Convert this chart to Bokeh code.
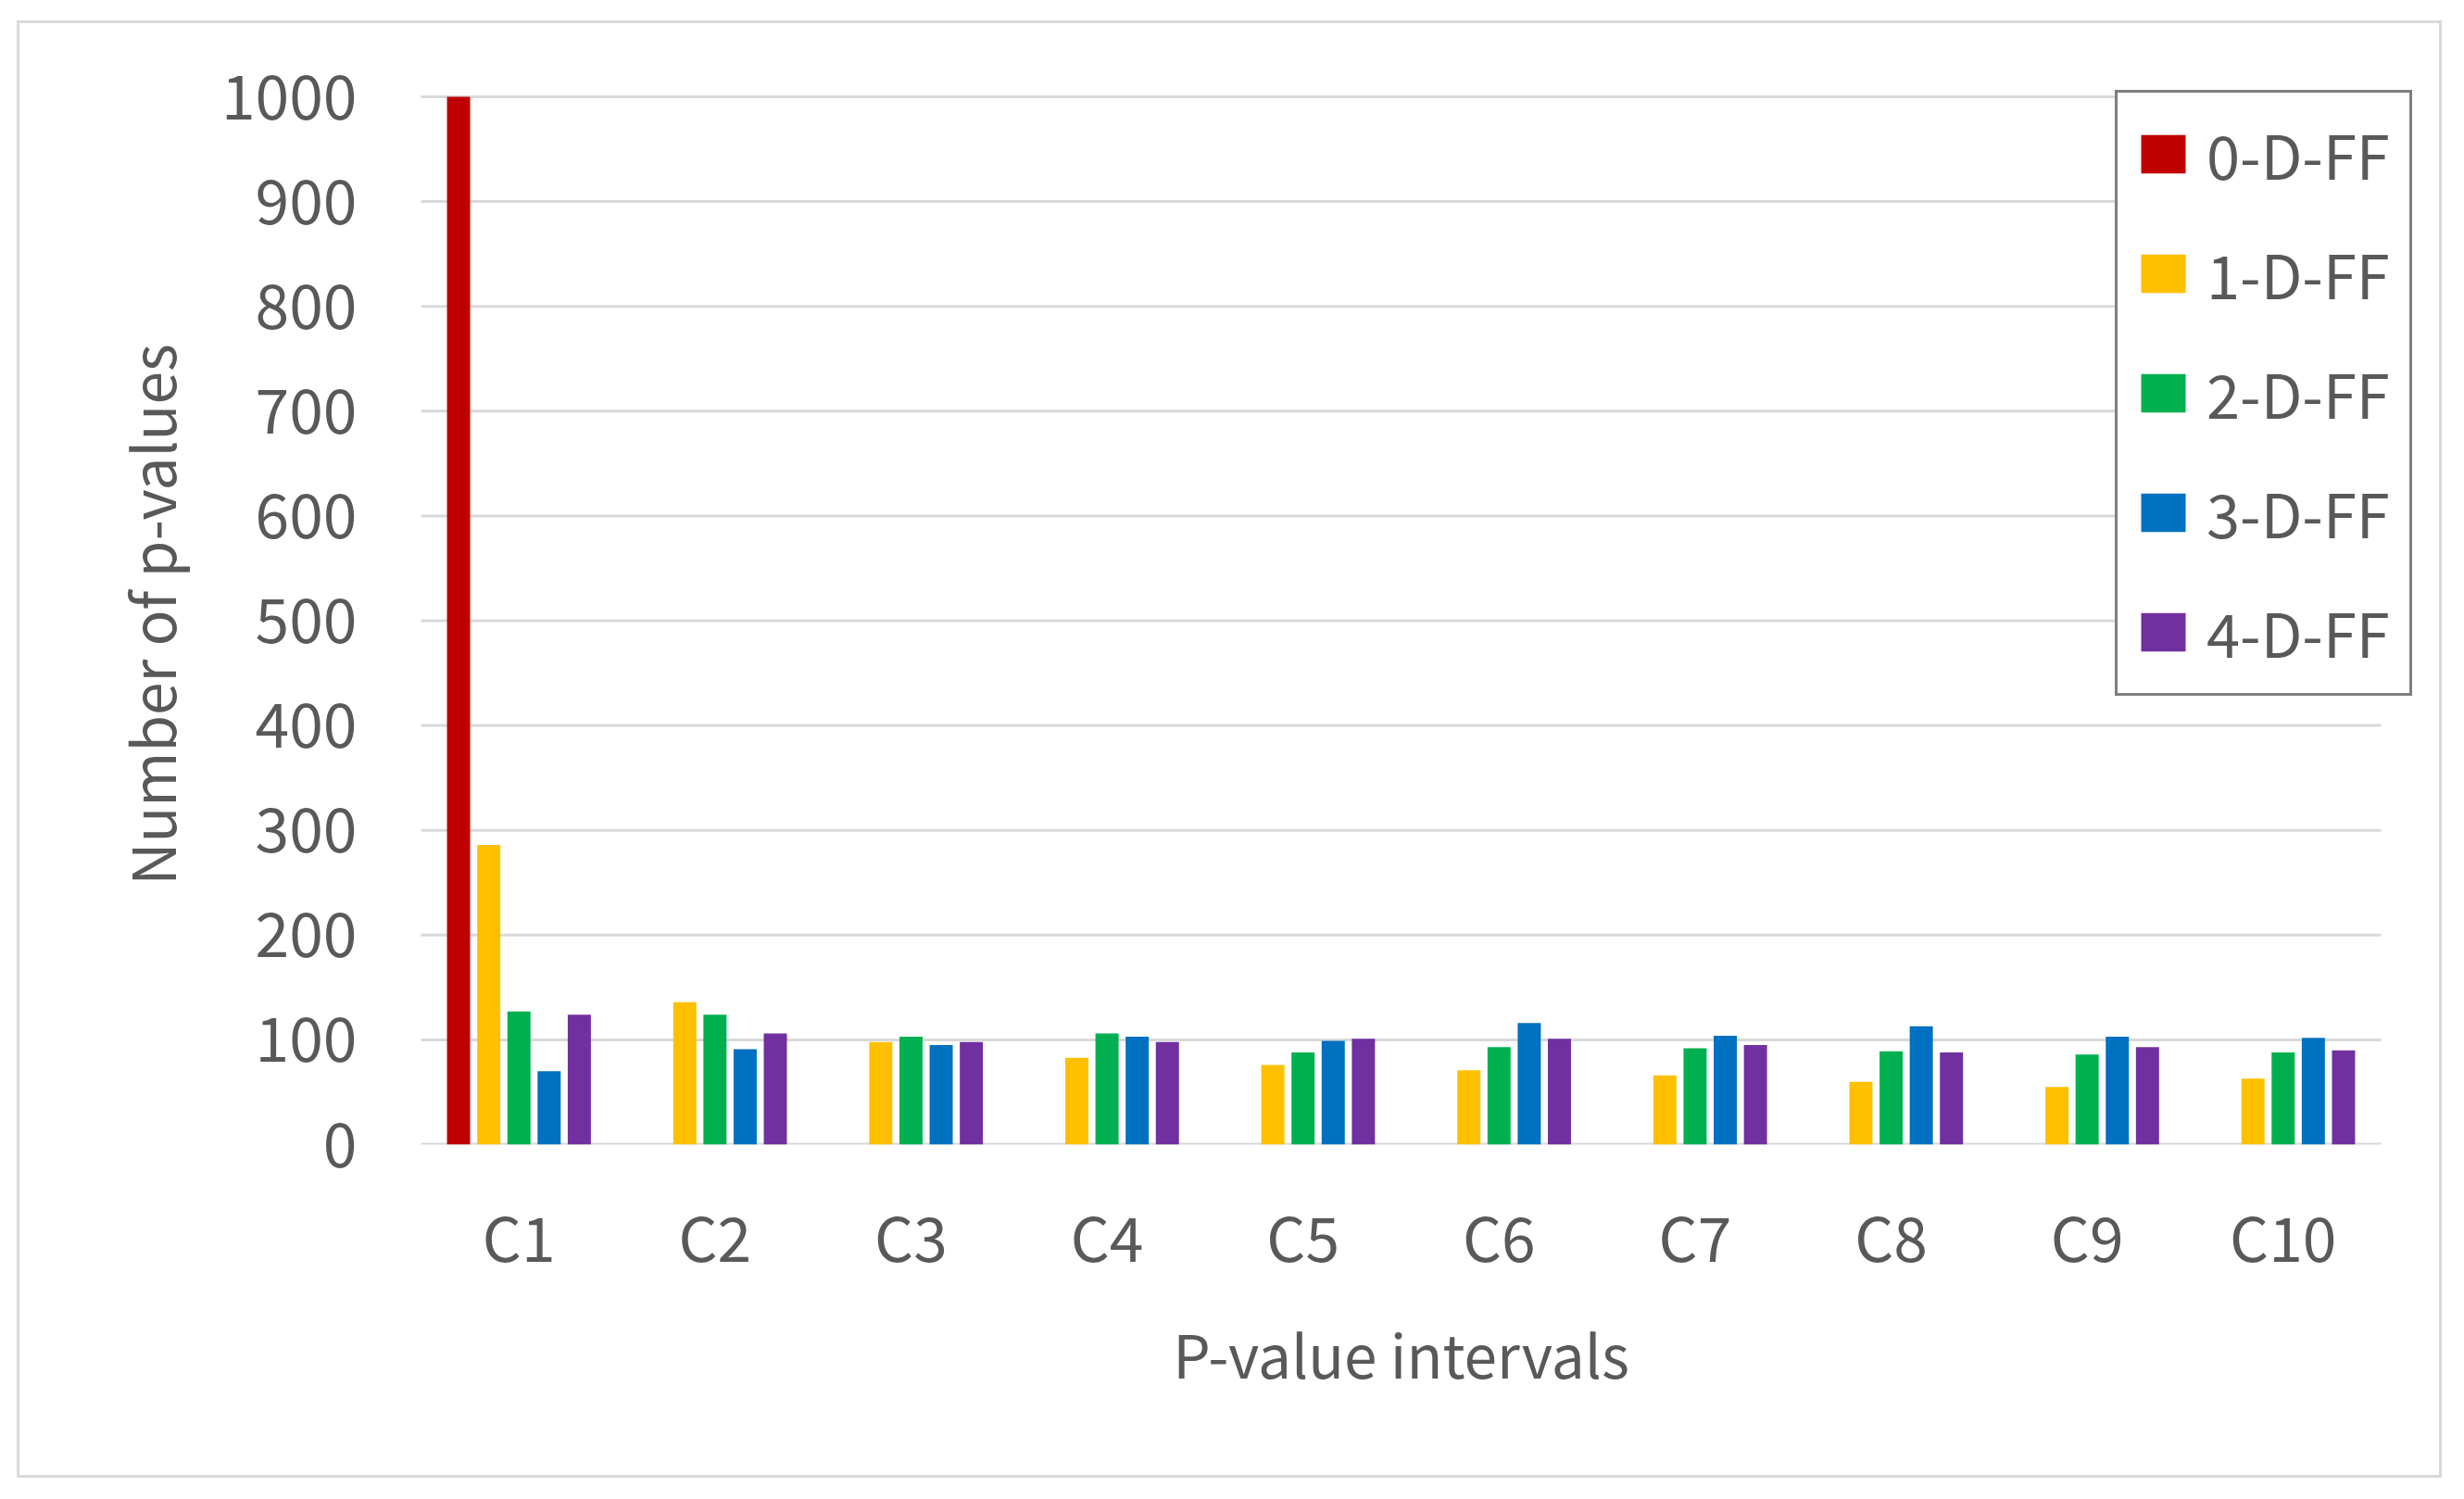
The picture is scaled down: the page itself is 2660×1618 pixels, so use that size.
from bokeh.plotting import figure
from bokeh.models import Range1d, FixedTicker, Legend, LegendItem, FactorRange, ColumnDataSource
from bokeh.transform import dodge
from bokeh.embed import file_html
from bokeh.resources import INLINE

categories = ["C1", "C2", "C3", "C4", "C5", "C6", "C7", "C8", "C9", "C10"]
series_names = ["0-D-FF", "1-D-FF", "2-D-FF", "3-D-FF", "4-D-FF"]
ff0 = [1000, 0, 0, 0, 0, 0, 0, 0, 0, 0]
ff1 = [286, 136, 98, 83, 76, 71, 66, 60, 55, 63]
ff2 = [127, 124, 103, 106, 88, 93, 92, 89, 86, 88]
ff3 = [70, 91, 95, 103, 99, 116, 104, 113, 103, 102]
ff4 = [124, 106, 98, 98, 101, 101, 95, 88, 93, 90]
y_ticks = [0, 100, 200, 300, 400, 500, 600, 700, 800, 900, 1000]
colors = ["#C00000", "#FFC000", "#00B050", "#0070C0", "#7030A0"]

FONT = "Noto Sans CJK SC"
TXT = "#595959"
GRID = "#d9d9d9"

src = ColumnDataSource(dict(cat=categories, ff0=ff0, ff1=ff1, ff2=ff2, ff3=ff3, ff4=ff4))

x_range = FactorRange(*categories, range_padding=0.217, range_padding_units="absolute")
p = figure(x_range=x_range, y_range=Range1d(0, 1011.5),
           width=2618, height=1573, output_backend="svg", toolbar_location=None,
           min_border_left=387, min_border_right=23, min_border_top=66, min_border_bottom=363)
p.margin = (22, 0, 0, 18)
p.styles = {"border": "3px solid #d9d9d9", "box-sizing": "border-box"}
p.outline_line_color = None
p.background_fill_color = "white"
p.border_fill_color = "white"
p.xgrid.grid_line_color = None
p.ygrid.grid_line_color = None

# horizontal gridlines spanning only the category area
n = len(y_ticks)
grid_src = ColumnDataSource(dict(y=y_ticks, x0=[categories[0]] * n, x1=[categories[-1]] * n,
                                 w=[4] + [3] * (n - 1)))
p.segment(x0=dodge("x0", -0.5, range=p.x_range), x1=dodge("x1", 0.5, range=p.x_range),
          y0="y", y1="y", line_color=GRID, line_width="w", source=grid_src)

pitch = 0.154
bw = 0.118
cols = ["ff0", "ff1", "ff2", "ff3", "ff4"]
renderers = []
for i, (c, col) in enumerate(zip(cols, colors)):
    r = p.vbar(x=dodge("cat", (i - 2) * pitch, range=p.x_range), top=c, width=bw,
               source=src, fill_color=col, line_color=None)
    renderers.append(r)

legend = Legend(items=[LegendItem(label=nm, renderers=[r]) for nm, r in zip(series_names, renderers)],
                location=(1875, 484))
legend.label_text_font = FONT
legend.label_text_font_size = "65px"
legend.label_text_color = TXT
legend.glyph_width = 60
legend.glyph_height = 52
legend.label_standoff = 17
legend.label_width = 200
legend.spacing = 35
legend.padding = 19
legend.margin = 0
legend.border_line_color = "black"
legend.border_line_width = 3
legend.background_fill_alpha = 1.0
p.add_layout(legend, "center")

p.yaxis.ticker = FixedTicker(ticks=y_ticks)

for ax in (p.xaxis[0], p.yaxis[0]):
    ax.major_label_text_font = FONT
    ax.major_label_text_font_size = "66px"
    ax.major_label_text_color = TXT
    ax.axis_label_text_font = FONT
    ax.axis_label_text_font_size = "64px"
    ax.axis_label_text_color = TXT
    ax.axis_label_text_font_style = "normal"
    ax.major_tick_line_color = None
    ax.minor_tick_line_color = None
    ax.axis_line_color = None

p.yaxis.major_label_standoff = 17
p.yaxis.axis_label = "Number of p-values"
p.yaxis.axis_label_standoff = 28

p.xaxis.major_label_standoff = 43
p.xaxis.axis_label = "P-value intervals"
p.xaxis.axis_label_standoff = 30

open("out.html", "w").write(file_html(p, INLINE))
